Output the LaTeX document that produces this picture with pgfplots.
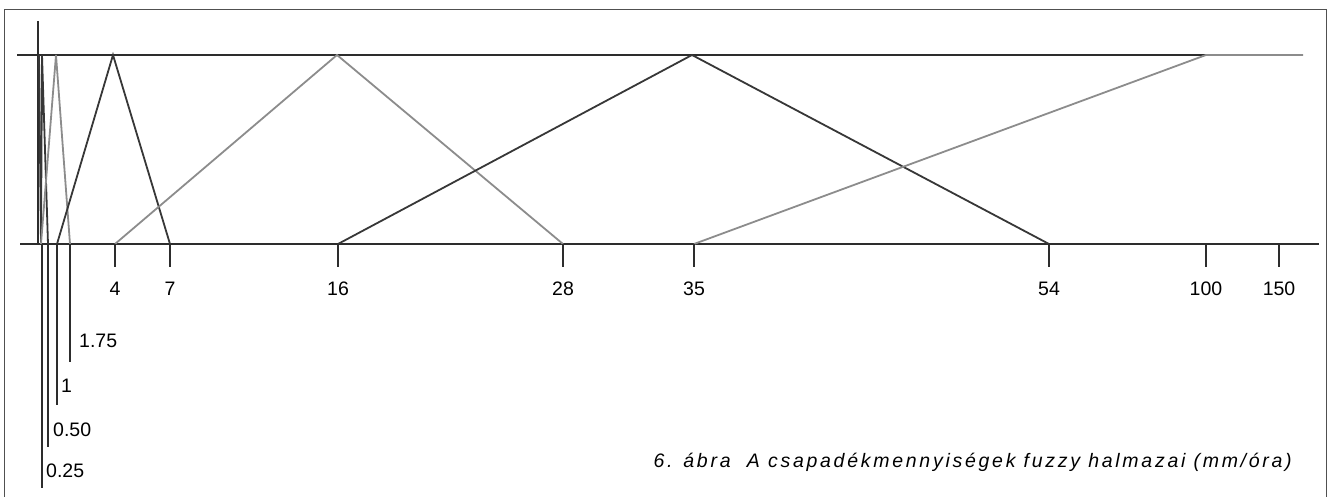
\documentclass[border=0pt]{standalone}
\usepackage{pgfplots}
\pgfplotsset{compat=1.18}
\usepackage{fontspec}
\setmainfont{Liberation Sans}
\definecolor{setdark}{RGB}{55,55,55}
\definecolor{setlight}{RGB}{140,140,140}
\definecolor{axisdark}{RGB}{45,45,45}
\definecolor{framegray}{RGB}{80,80,80}

% x = position on the (non linear) rain axis, y = membership degree
% mu 0 sits at pixel row 244, mu 1 at row 55 (189 rows per unit)
\newcommand{\lab}{\fontsize{19.5}{22}\selectfont}

\begin{document}
\begin{tikzpicture}
\begin{axis}[
  scale only axis, width=1327pt, height=497pt,
  xmin=0, xmax=1327, ymin=-1.3386, ymax=1.2910,
  hide axis, clip=true,
]
% frame
\draw[framegray, line width=1pt] (axis cs:4,1.243) rectangle (axis cs:1326,-1.5);
% membership axis and the two guide lines (mu=0, mu=1)
\draw[axisdark, line width=2.2pt] (axis cs:38,1.180) -- (axis cs:38,-0.005);
\draw[axisdark, line width=2.2pt] (axis cs:17,1) -- (axis cs:1303,1);
\draw[axisdark, line width=2.2pt] (axis cs:20,0) -- (axis cs:1319,0);

% fuzzy sets
\addplot[setdark, line width=1.8pt] coordinates {(39,1) (41,0)};
\addplot[setdark, line width=1.8pt] coordinates {(41,0) (42,1) (48,0)};
\addplot[setlight, line width=1.8pt] coordinates {(41,0) (56,1) (70,0)};
\addplot[setdark, line width=1.8pt] coordinates {(57,0) (113,1) (170,0)};
\addplot[setlight, line width=1.8pt] coordinates {(115,0) (337,1) (563,0)};
\addplot[setdark, line width=1.8pt] coordinates {(338,0) (692,1) (1049,0)};
\addplot[setlight, line width=1.8pt] coordinates {(694,0) (1206,1) (1303,1)};

% tick marks
\foreach \xx in {115,170,338,563,694,1049,1206,1279}{
  \edef\tmp{\noexpand\draw[axisdark, line width=2.2pt] (axis cs:\xx,0) -- (axis cs:\xx,-0.1217);}\tmp
}
\draw[axisdark, line width=2.2pt] (axis cs:42,0) -- (axis cs:42,-1.291);
\draw[axisdark, line width=2.2pt] (axis cs:48,0) -- (axis cs:48,-1.074);
\draw[axisdark, line width=2.2pt] (axis cs:57,0) -- (axis cs:57,-0.852);
\draw[axisdark, line width=2.2pt] (axis cs:70,0) -- (axis cs:70,-0.624);

% tick labels
\node[anchor=base, font=\lab] at (axis cs:115,-0.270) {4};
\node[anchor=base, font=\lab] at (axis cs:170,-0.270) {7};
\node[anchor=base, font=\lab] at (axis cs:338,-0.270) {16};
\node[anchor=base, font=\lab] at (axis cs:563,-0.270) {28};
\node[anchor=base, font=\lab] at (axis cs:694,-0.270) {35};
\node[anchor=base, font=\lab] at (axis cs:1049,-0.270) {54};
\node[anchor=base, font=\lab] at (axis cs:1206,-0.270) {100};
\node[anchor=base, font=\lab] at (axis cs:1279,-0.270) {150};
\node[anchor=base west, inner sep=0pt, font=\lab] at (axis cs:79,-0.550) {1.75};
\node[anchor=base west, inner sep=0pt, font=\lab] at (axis cs:61,-0.788) {1};
\node[anchor=base west, inner sep=0pt, font=\lab] at (axis cs:53,-1.021) {0.50};
\node[anchor=base west, inner sep=0pt, font=\lab] at (axis cs:46,-1.238) {0.25};

% caption
\node[anchor=base east, inner sep=0pt, font=\lab\itshape\addfontfeatures{LetterSpace=14}]
  at (axis cs:1292,-1.180) {6. ábra\ \ A csapadékmennyiségek fuzzy halmazai (mm/óra)};
\end{axis}
\pgfresetboundingbox
\path (0,0) rectangle (1327pt,497pt);
\end{tikzpicture}
\end{document}
